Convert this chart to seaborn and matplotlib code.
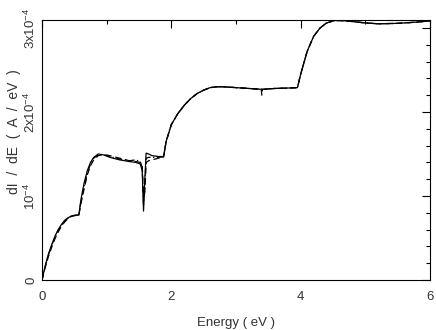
import matplotlib
matplotlib.use("Agg")
import matplotlib.pyplot as plt
from matplotlib.ticker import MultipleLocator, FixedLocator, FixedFormatter
import seaborn as sns
import pandas as pd

# energy grid (eV) shared by all three curves
energy = [0.0, 0.05, 0.1, 0.15, 0.2, 0.25, 0.3, 0.35, 0.4, 0.45, 0.5, 0.57,
          0.6, 0.65, 0.7, 0.75, 0.8, 0.87, 0.95, 1.05, 1.2, 1.35, 1.45, 1.52,
          1.55, 1.57, 1.59, 1.61, 1.65, 1.7, 1.8, 1.88, 1.92, 2.0, 2.1, 2.2,
          2.3, 2.4, 2.5, 2.6, 2.7, 2.8, 3.0, 3.2, 3.39, 3.4, 3.41, 3.6, 3.8,
          3.95, 4.0, 4.1, 4.2, 4.3, 4.4, 4.53, 4.7, 5.0, 5.2, 5.5, 5.8, 6.0]

# dI/dE in units of 1e-4 A/eV
solid = [0.0, 0.17, 0.31, 0.42, 0.52, 0.60, 0.66, 0.71, 0.74, 0.76, 0.77, 0.775,
         0.95, 1.15, 1.30, 1.40, 1.46, 1.50, 1.49, 1.46, 1.43, 1.41, 1.40, 1.38,
         1.30, 0.82, 1.20, 1.51, 1.50, 1.48, 1.47, 1.47, 1.65, 1.85, 1.98, 2.08,
         2.16, 2.22, 2.26, 2.29, 2.30, 2.30, 2.29, 2.28, 2.27, 2.27, 2.27, 2.28, 2.285,
         2.29, 2.45, 2.72, 2.90, 3.00, 3.06, 3.09, 3.085, 3.06, 3.05, 3.055, 3.07, 3.085]

dashed = [0.0, 0.15, 0.28, 0.39, 0.49, 0.57, 0.64, 0.69, 0.73, 0.755, 0.765, 0.775,
          0.90, 1.08, 1.25, 1.36, 1.43, 1.48, 1.495, 1.48, 1.45, 1.42, 1.41, 1.40,
          1.36, 0.95, 1.05, 1.40, 1.42, 1.43, 1.45, 1.46, 1.65, 1.85, 1.98, 2.08,
          2.16, 2.22, 2.26, 2.29, 2.30, 2.30, 2.29, 2.28, 2.27, 2.20, 2.27, 2.28, 2.285,
          2.29, 2.45, 2.72, 2.90, 3.00, 3.06, 3.09, 3.085, 3.06, 3.05, 3.055, 3.07, 3.085]

dashdot = [0.0, 0.16, 0.30, 0.41, 0.51, 0.59, 0.65, 0.70, 0.735, 0.758, 0.768, 0.775,
           0.92, 1.11, 1.27, 1.38, 1.45, 1.49, 1.49, 1.47, 1.44, 1.42, 1.43, 1.41,
           1.34, 0.90, 1.10, 1.45, 1.46, 1.46, 1.46, 1.465, 1.65, 1.85, 1.98, 2.08,
           2.16, 2.22, 2.26, 2.29, 2.30, 2.30, 2.29, 2.28, 2.27, 2.27, 2.27, 2.28, 2.285,
           2.29, 2.45, 2.72, 2.90, 3.00, 3.06, 3.09, 3.085, 3.06, 3.05, 3.055, 3.07, 3.085]

ytick_vals = [0, 1, 2, 3]
ytick_labels = ["0", r"10$^{-4}$", r"2x10$^{-4}$", r"3x10$^{-4}$"]

sns.set_theme(style="white")
plt.rcParams["font.family"] = ["Liberation Sans", "DejaVu Sans"]
plt.rcParams["mathtext.fontset"] = "custom"
plt.rcParams["mathtext.rm"] = "Liberation Sans"

fig = plt.figure(figsize=(4.36, 3.30), dpi=100)
ax = fig.add_axes([42 / 436, 1 - 280 / 330, 388 / 436, 260 / 330])

for vals, ls in [(dashed, (0, (5, 3))), (dashdot, (0, (5, 2, 1, 2))), (solid, "-")]:
    df = pd.DataFrame({"E": energy, "dIdE": vals})
    sns.lineplot(data=df, x="E", y="dIdE", ax=ax, color="black",
                 linewidth=0.9, linestyle=ls, estimator=None, sort=False)

ax.set_xlim(0, 6)
ax.set_ylim(0, 3.095)
ax.xaxis.set_major_locator(MultipleLocator(2))
ax.xaxis.set_minor_locator(MultipleLocator(1))
ax.yaxis.set_major_locator(FixedLocator(ytick_vals))
ax.yaxis.set_major_formatter(FixedFormatter(ytick_labels))
ax.yaxis.set_minor_locator(MultipleLocator(0.2))

ax.tick_params(which="both", direction="in", top=True, right=True,
               colors="black", labelcolor="#333333", labelsize=9.5, width=0.8)
ax.tick_params(which="major", length=6, pad=3)
ax.tick_params(which="minor", length=3)
ax.tick_params(axis="x", which="major", pad=8)
for lab in ax.get_yticklabels():
    lab.set_rotation(90)
    lab.set_va("center")

for sp in ax.spines.values():
    sp.set_color("black")
    sp.set_linewidth(0.8)

ax.set_xlabel("Energy ( eV )", fontsize=9.5, color="#333333", labelpad=10)
ax.set_ylabel("dI  /  dE  (  A  /  eV  )", fontsize=10, color="#333333")
ax.yaxis.set_label_coords(-0.055, 0.57)

fig.savefig("out.png", dpi=100)
